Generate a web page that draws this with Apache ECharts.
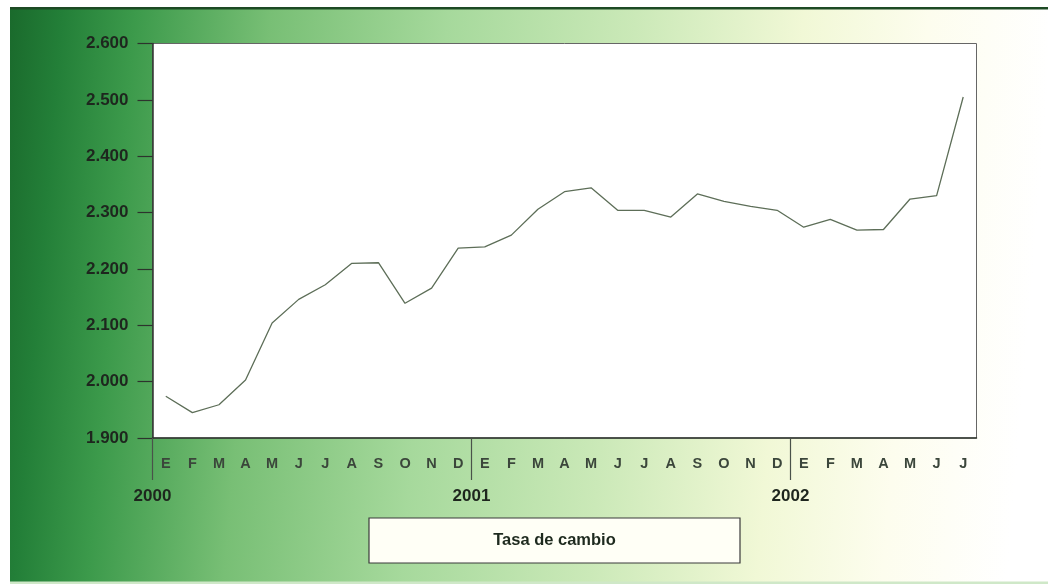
<!DOCTYPE html>
<html>
<head>
<meta charset="utf-8">
<title>Tasa de cambio</title>
<script src="https://cdn.jsdelivr.net/npm/echarts@6/dist/echarts.min.js"></script>
<style>
  html, body { margin: 0; padding: 0; background: #fff; }
  #chart { width: 1048px; height: 584px; }
</style>
</head>
<body>
<div id="chart"></div>
<script>
// meses ene-2000 .. jul-2002
const months = [
  "E", "F", "M", "A", "M", "J", "J", "A", "S", "O", "N", "D",
  "E", "F", "M", "A", "M", "J", "J", "A", "S", "O", "N", "D",
  "E", "F", "M", "A", "M", "J", "J"
];
const years = ["2000", "2001", "2002"];
// pesos por dolar
const tasa = [
  1974, 1945, 1959, 2003, 2104, 2146, 2172, 2210, 2211, 2139, 2166, 2237,
  2239, 2260, 2306, 2337, 2344, 2304, 2304, 2292, 2333, 2320, 2311, 2304,
  2274, 2288, 2269, 2270, 2324, 2330, 2505
];
const yMin = 1900;
const yMax = 2600;
const yStep = 100;

const plotLeft = 152.5;
const plotRight = 976.5;
const plotTop = 43.5;
const plotBottom = 438;
const bandW = (plotRight - plotLeft) / months.length;

const font = "'Liberation Sans', Arial, sans-serif";

function miles(v) {
  let s = String(v);
  return s.slice(0, s.length - 3) + "." + s.slice(s.length - 3);
}

let myChart = echarts.init(document.getElementById("chart"));
let option = {
  animation: false,
  graphic: [
    {
      type: "rect",
      z: -100,
      silent: true,
      shape: { x: 10, y: 8, width: 1038, height: 576 },
      style: {
        fill: {
          type: "linear",
          x: 0, y: 0, x2: 1, y2: 0.15,
          colorStops: [
            { offset: 0, color: "#1a6a2c" },
            { offset: 0.05, color: "#237f38" },
            { offset: 0.12, color: "#3c9a4b" },
            { offset: 0.25, color: "#78bf75" },
            { offset: 0.42, color: "#a6d99c" },
            { offset: 0.6, color: "#cbe9b8" },
            { offset: 0.76, color: "#f1f8d6" },
            { offset: 0.88, color: "#fdfdee" },
            { offset: 1, color: "#ffffff" }
          ]
        }
      }
    },
    {
      type: "rect",
      z: -90,
      silent: true,
      shape: { x: 10, y: 7, width: 1038, height: 2.5 },
      style: { fill: "#1d4a24" }
    },
    {
      type: "rect",
      z: -90,
      silent: true,
      shape: { x: 10, y: 581.5, width: 1038, height: 2.5 },
      style: { fill: "#cfe8c8" }
    },
    {
      type: "rect",
      shape: { x: 369, y: 518, width: 371, height: 45 },
      style: { fill: "#fffff6", stroke: "#3a3a3a", lineWidth: 1.2 }
    },
    {
      type: "text",
      x: 554.5,
      y: 540.5,
      style: {
        text: "Tasa de cambio",
        fill: "#1e2a1e",
        font: "bold 16.5px " + font,
        align: "center",
        verticalAlign: "middle"
      }
    }
  ],
  grid: [
    {
      left: plotLeft,
      right: 1048 - plotRight,
      top: plotTop,
      bottom: 584 - plotBottom,
      show: true,
      backgroundColor: "#ffffff",
      borderColor: "#666",
      borderWidth: 1
    },
    {
      left: plotLeft,
      width: bandW * 24,
      top: plotTop,
      bottom: 584 - plotBottom,
      show: false
    }
  ],
  xAxis: [
    {
      type: "category",
      gridIndex: 0,
      data: months,
      boundaryGap: true,
      axisLine: { lineStyle: { color: "#2d332d", width: 1.5 } },
      axisTick: {
        interval: 0,
        length: 14,
        lineStyle: { color: "#4a524a", width: 1.2 }
      },
      axisLabel: {
        interval: 0,
        margin: 18,
        fontSize: 14.5,
        fontWeight: "bold",
        fontFamily: font,
        color: "#3b463b"
      },
      splitLine: { show: false }
    },
    {
      type: "value",
      gridIndex: 1,
      min: 0,
      max: 24,
      interval: 12,
      axisLine: { show: false },
      axisTick: {
        length: 42,
        lineStyle: { color: "#4a524a", width: 1.2 }
      },
      axisLabel: {
        margin: 50,
        fontSize: 17,
        fontWeight: "bold",
        fontFamily: font,
        color: "#1e261e",
        formatter: v => years[v / 12]
      },
      splitLine: { show: false }
    }
  ],
  yAxis: [
    {
      type: "value",
      gridIndex: 0,
      min: yMin,
      max: yMax,
      interval: yStep,
      axisLine: { show: true, lineStyle: { color: "#2d332d", width: 1.5 } },
      axisTick: {
        show: true,
        length: 15,
        lineStyle: { color: "#2d332d", width: 1.2 }
      },
      axisLabel: {
        margin: 24,
        fontSize: 17,
        fontWeight: "bold",
        fontFamily: font,
        color: "#1e261e",
        formatter: v => miles(v)
      },
      splitLine: { show: false }
    },
    {
      type: "value",
      gridIndex: 1,
      show: false
    }
  ],
  series: [
    {
      name: "Tasa de cambio",
      type: "line",
      xAxisIndex: 0,
      yAxisIndex: 0,
      data: tasa,
      showSymbol: false,
      symbol: "none",
      lineStyle: { color: "#5d6e58", width: 1.3 }
    }
  ]
};
myChart.setOption(option);
</script>
</body>
</html>
